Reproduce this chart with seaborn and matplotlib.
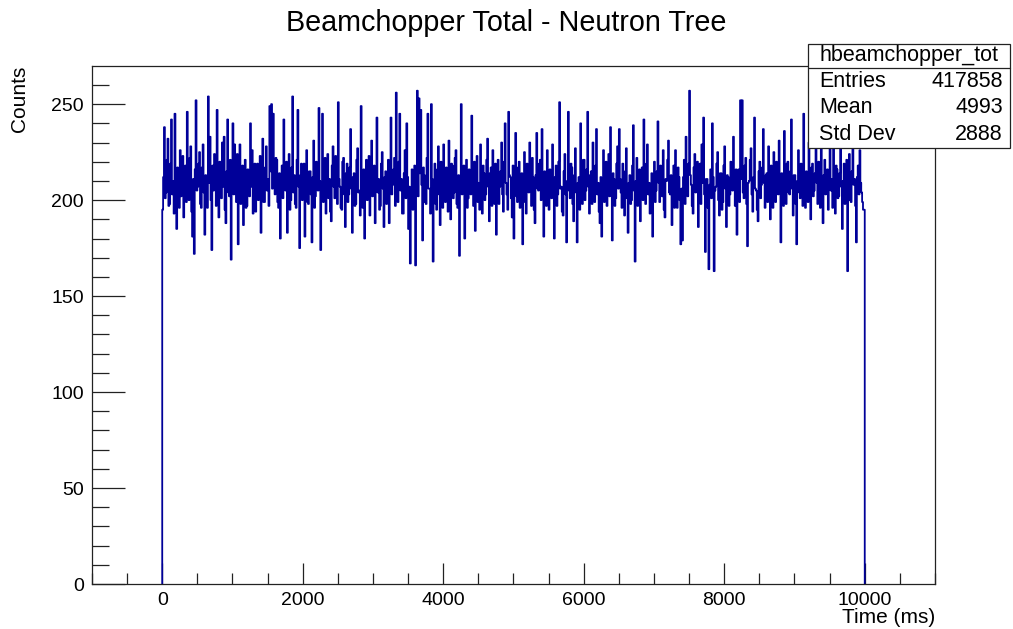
import numpy as np
import seaborn as sns
from matplotlib import pyplot as plt
from matplotlib.ticker import MultipleLocator
from matplotlib.patches import Rectangle
from matplotlib.lines import Line2D

# histogram range (ms) and bin contents (12.5 ms bins)
x_min, x_max = 0, 10000
counts = [
    195, 212, 238, 201, 204, 221, 232, 197, 198, 219, 242, 203, 210, 193, 245, 206, 185, 217, 214, 196,
    226, 202, 203, 223, 191, 214, 218, 199, 246, 208, 200, 222, 228, 194, 181, 211, 172, 216, 252, 205,
    207, 219, 225, 198, 196, 217, 229, 204, 182, 213, 212, 196, 254, 209, 233, 200, 174, 218, 205, 224,
    223, 197, 247, 210, 191, 220, 216, 201, 230, 207, 233, 195, 188, 215, 242, 204, 202, 221, 169, 208,
    240, 203, 229, 211, 199, 224, 177, 209, 229, 198, 208, 218, 187, 214, 221, 196, 197, 216, 215, 202,
    240, 207, 226, 193, 201, 219, 194, 212, 219, 200, 206, 223, 183, 210, 232, 199, 199, 217, 228, 205,
    211, 197, 249, 215, 250, 206, 245, 212, 203, 222, 221, 199, 196, 214, 180, 209, 218, 201, 242, 208,
    205, 220, 183, 211, 224, 195, 200, 217, 254, 204, 213, 198, 196, 221, 247, 207, 175, 213, 219, 200,
    204, 219, 181, 208, 226, 199, 198, 215, 215, 203, 178, 212, 231, 196, 202, 220, 217, 205, 248, 210,
    174, 206, 245, 199, 206, 222, 193, 213, 224, 201, 211, 194, 189, 218, 228, 207, 201, 223, 216, 198,
    251, 211, 207, 196, 195, 220, 222, 203, 186, 214, 219, 199, 203, 217, 237, 206, 183, 212, 214, 197,
    198, 221, 227, 204, 205, 192, 249, 210, 196, 216, 180, 207, 221, 200, 208, 223, 192, 213, 231, 202,
    203, 218, 188, 209, 243, 204, 211, 195, 197, 219, 225, 206, 186, 212, 215, 198, 204, 221, 188, 210,
    243, 203, 208, 216, 222, 197, 256, 209, 199, 220, 245, 205, 211, 193, 193, 214, 226, 201, 240, 212,
    185, 207, 167, 204, 216, 195, 202, 218, 166, 211, 257, 202, 253, 214, 247, 208, 179, 217, 213, 199,
    198, 222, 245, 206, 206, 193, 250, 211, 168, 205, 219, 198, 195, 216, 228, 203, 187, 220, 212, 196,
    229, 208, 199, 217, 207, 194, 231, 212, 190, 219, 218, 201, 204, 222, 226, 198, 196, 213, 171, 207,
    250, 203, 210, 218, 180, 209, 221, 196, 201, 216, 215, 203, 244, 211, 197, 220, 184, 206, 223, 199,
    209, 195, 229, 212, 193, 218, 214, 200, 203, 221, 232, 207, 189, 214, 217, 197, 226, 209, 198, 219,
    182, 205, 221, 198, 207, 215, 230, 203, 194, 220, 240, 209, 203, 195, 246, 213, 212, 201, 191, 218,
    180, 210, 235, 202, 199, 217, 220, 196, 206, 214, 177, 208, 225, 199, 193, 219, 216, 204, 230, 211,
    197, 222, 212, 195, 188, 213, 235, 206, 205, 219, 221, 200, 237, 208, 181, 215, 209, 197, 226, 205,
    195, 216, 214, 201, 229, 209, 180, 212, 218, 197, 203, 220, 251, 206, 207, 194, 192, 215, 224, 203,
    178, 210, 246, 205, 201, 219, 217, 198, 189, 213, 227, 204, 178, 209, 212, 195, 240, 211, 198, 221,
    221, 200, 205, 216, 246, 207, 193, 213, 215, 198, 230, 209, 199, 218, 237, 203, 209, 194, 188, 212,
    181, 206, 226, 199, 213, 220, 197, 211, 224, 202, 238, 208, 179, 214, 211, 197, 201, 219, 228, 206,
    237, 211, 204, 196, 219, 207, 192, 215, 227, 201, 183, 209, 213, 198, 200, 218, 239, 205, 168, 210,
    222, 197, 206, 216, 189, 212, 217, 200, 242, 208, 198, 219, 229, 203, 209, 193, 194, 214, 181, 207,
    220, 199, 205, 215, 241, 209, 199, 218, 214, 202, 226, 195, 191, 211, 210, 221, 231, 204, 203, 213,
    187, 209, 218, 196, 226, 207, 196, 217, 212, 200, 177, 206, 179, 212, 221, 198, 233, 210, 202, 219,
    257, 213, 208, 197, 193, 217, 224, 204, 205, 220, 186, 210, 219, 198, 229, 209, 243, 203, 173, 211,
    211, 196, 164, 208, 216, 201, 240, 212, 163, 205, 207, 219, 225, 200, 192, 214, 214, 195, 199, 218,
    228, 206, 186, 213, 212, 197, 203, 220, 219, 205, 233, 210, 197, 216, 182, 207, 216, 199, 252, 211,
    252, 204, 201, 218, 222, 198, 176, 209, 210, 221, 227, 203, 194, 212, 243, 206, 205, 195, 189, 215,
    220, 201, 208, 217, 237, 209, 196, 213, 214, 199, 228, 207, 190, 218, 211, 196, 225, 210, 199, 220,
    215, 203, 231, 208, 178, 214, 207, 197, 236, 211, 198, 219, 220, 204, 203, 215, 242, 206, 192, 213,
    213, 198, 177, 210, 226, 204, 201, 219, 218, 197, 245, 212, 196, 215, 209, 199, 230, 208, 190, 217,
    219, 202, 205, 214, 236, 209, 198, 220, 214, 196, 233, 210, 188, 213, 221, 203, 207, 216, 195, 208,
    227, 205, 211, 196, 240, 212, 193, 218, 216, 201, 202, 214, 229, 207, 185, 210, 219, 198, 208, 221,
    163, 206, 224, 200, 199, 215, 232, 208, 211, 197, 178, 212, 218, 203, 226, 209, 204, 199, 195, 195,
]
hist_name = 'hbeamchopper_tot'
stat_labels = ['Entries', 'Mean', 'Std Dev']
stat_values = ['417858', '4993', '2888']

sns.set_theme(style='ticks')
plt.rcParams['font.family'] = ['Liberation Sans', 'DejaVu Sans']
plt.rcParams['text.color'] = 'black'
plt.rcParams['axes.labelcolor'] = 'black'
plt.rcParams['xtick.color'] = 'black'
plt.rcParams['ytick.color'] = 'black'
plt.rcParams['axes.edgecolor'] = '#222222'
plt.rcParams['axes.linewidth'] = 0.9

counts = np.array(counts, dtype=float)
edges = np.linspace(x_min, x_max, len(counts) + 1)
# outline that drops to zero at both ends, like a ROOT TH1 draw
xs = np.r_[edges[0], edges, edges[-1]]
ys = np.r_[0, counts, counts[-1], 0]

fig = plt.figure(figsize=(10.13, 6.29), dpi=100)
ax = fig.add_axes([0.0908, 0.0715, 0.8322, 0.8235])
sns.lineplot(x=xs, y=ys, sort=False, estimator=None, drawstyle='steps-post',
             color='#000099', linewidth=1.3, ax=ax)

ax.set_xlim(-1000, 11000)
ax.set_ylim(0, counts.max() * 1.05)
ax.xaxis.set_major_locator(MultipleLocator(2000))
ax.xaxis.set_minor_locator(MultipleLocator(500))
ax.yaxis.set_major_locator(MultipleLocator(50))
ax.yaxis.set_minor_locator(MultipleLocator(10))
ax.tick_params(axis='x', which='major', direction='in', length=15, width=0.9,
               color='#222222', labelsize=14, pad=6)
ax.tick_params(axis='x', which='minor', direction='in', length=8, width=0.9, color='#222222')
ax.tick_params(axis='y', which='major', direction='in', length=24, width=0.9,
               color='#222222', labelsize=14, pad=6)
ax.tick_params(axis='y', which='minor', direction='in', length=12, width=0.9, color='#222222')
for s in ax.spines.values():
    s.set_visible(True)

ax.set_xlabel('Time (ms)', loc='right', fontsize=15, labelpad=-1)
ax.set_ylabel('Counts', loc='top', fontsize=15, labelpad=16)
fig.suptitle('Beamchopper Total - Neutron Tree', fontsize=20.7, y=0.985)

# stats box
bx0, bx1, by0, by1, bsep = 0.7976, 0.997, 0.7647, 0.930, 0.892
fig.add_artist(Rectangle((bx0, by0), bx1 - bx0, by1 - by0, transform=fig.transFigure,
                         facecolor='white', edgecolor='#222222', linewidth=0.9, zorder=5))
fig.add_artist(Line2D([bx0, bx1], [bsep, bsep], transform=fig.transFigure,
                      color='#222222', linewidth=0.9, zorder=6))
fig.text((bx0 + bx1) / 2, (bsep + by1) / 2, hist_name, ha='center', va='center',
         fontsize=15.5, zorder=7)
row_h = (bsep - by0) / len(stat_labels)
for i, (lab, val) in enumerate(zip(stat_labels, stat_values)):
    yy = bsep - row_h * (i + 0.5)
    fig.text(bx0 + 0.011, yy, lab, ha='left', va='center', fontsize=15.5, zorder=7)
    fig.text(bx1 - 0.007, yy, val, ha='right', va='center', fontsize=15.5, zorder=7)

fig.savefig('out.png', dpi=100)
